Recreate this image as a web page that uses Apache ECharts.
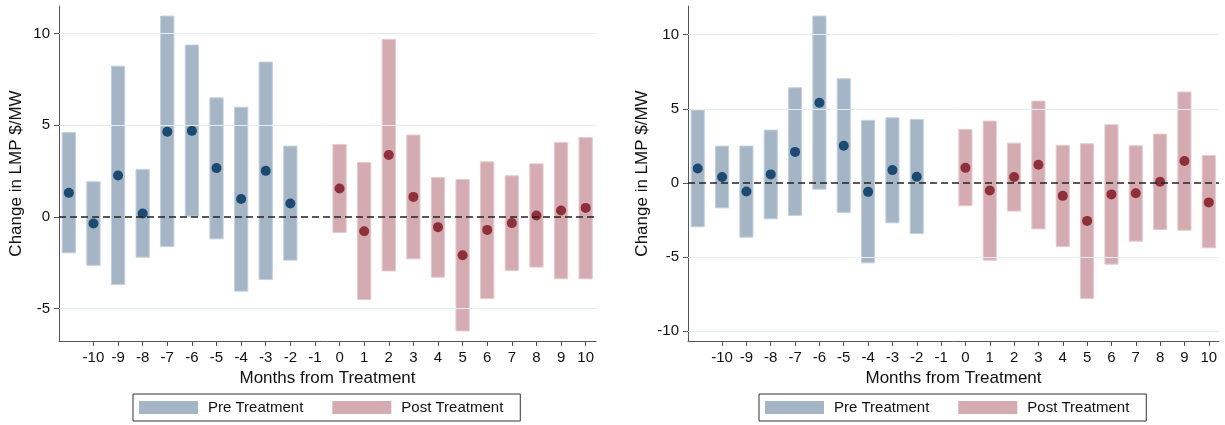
<!DOCTYPE html>
<html lang="en">
<head>
    <meta charset="UTF-8">
    <title>Change in LMP</title>
    <style>
        * {
            margin: 0;
            padding: 0;
        }

        body {
            background-color: #fff;
        }

        #chart {
            width: 1225px;
            height: 425px;
        }
    </style>
</head>
<body>
<div id="chart"></div>
<script src="https://cdn.jsdelivr.net/npm/echarts@6/dist/echarts.min.js"></script>
<script>
    // months from treatment
    var preMonths = [-11, -10, -9, -8, -7, -6, -5, -4, -3, -2];
    var postMonths = [0, 1, 2, 3, 4, 5, 6, 7, 8, 9, 10];
    var xTicks = [-10, -9, -8, -7, -6, -5, -4, -3, -2, -1, 0, 1, 2, 3, 4, 5, 6, 7, 8, 9, 10];

    // left panel
    var leftPreEst = [1.31, -0.36, 2.26, 0.18, 4.64, 4.69, 2.66, 0.97, 2.51, 0.73];
    var leftPreLow = [-1.96, -2.64, -3.69, -2.2, -1.62, 0.04, -1.2, -4.05, -3.42, -2.36];
    var leftPreHigh = [4.6, 1.91, 8.22, 2.59, 10.95, 9.37, 6.49, 5.98, 8.44, 3.86];
    var leftPostEst = [1.55, -0.78, 3.37, 1.09, -0.56, -2.09, -0.71, -0.34, 0.07, 0.35, 0.49];
    var leftPostLow = [-0.85, -4.51, -2.95, -2.29, -3.29, -6.22, -4.45, -2.93, -2.74, -3.38, -3.38];
    var leftPostHigh = [3.95, 2.97, 9.68, 4.46, 2.15, 2.04, 3.0, 2.24, 2.89, 4.06, 4.33];
    var leftYTicks = [-5, 0, 5, 10];

    // right panel
    var rightPreEst = [0.97, 0.39, -0.58, 0.57, 2.09, 5.41, 2.5, -0.61, 0.86, 0.41];
    var rightPreLow = [-2.97, -1.69, -3.67, -2.43, -2.2, -0.43, -2.0, -5.4, -2.7, -3.42];
    var rightPreHigh = [4.91, 2.48, 2.48, 3.56, 6.42, 11.26, 7.03, 4.22, 4.39, 4.28];
    var rightPostEst = [1.01, -0.52, 0.39, 1.22, -0.88, -2.57, -0.78, -0.7, 0.07, 1.47, -1.32];
    var rightPostLow = [-1.55, -5.22, -1.91, -3.11, -4.3, -7.81, -5.49, -3.94, -3.15, -3.2, -4.39];
    var rightPostHigh = [3.6, 4.17, 2.68, 5.52, 2.53, 2.64, 3.92, 2.5, 3.29, 6.13, 1.85];
    var rightYTicks = [-10, -5, 0, 5, 10];

    var preFill = '#a4b5c6', preEdge = '#c4d0db', preDot = '#1b4a72';
    var postFill = '#d4abb1', postEdge = '#e6cacd', postDot = '#8f2f39';
    var font = '"Liberation Sans", Arial, Helvetica, sans-serif';

    function zip3(x, a, b) {
        return x.map(function (v, i) { return [v, a[i], b[i]]; });
    }

    function zip2(x, a) {
        return x.map(function (v, i) { return [v, a[i]]; });
    }

    function rangeBars(fill, edge) {
        return function (params, api) {
            var top = api.coord([api.value(0), api.value(2)]);
            var bot = api.coord([api.value(0), api.value(1)]);
            var w = api.size([1, 0])[0] * 0.54;
            return {
                type: 'rect',
                shape: {x: top[0] - w / 2, y: top[1], width: w, height: bot[1] - top[1]},
                style: {fill: fill, stroke: edge, lineWidth: 1}
            };
        };
    }

    function xAxis(idx) {
        return {
            type: 'value',
            gridIndex: idx,
            min: -11.4,
            max: 10.42,
            name: 'Months from Treatment',
            nameLocation: 'middle',
            nameGap: 27,
            nameTextStyle: {fontSize: 17, color: '#111', fontFamily: font},
            axisLine: {onZero: false, lineStyle: {color: '#555', width: 1}},
            axisTick: {customValues: xTicks, length: 5, lineStyle: {color: '#555'}},
            axisLabel: {customValues: xTicks, fontSize: 15, color: '#111', fontFamily: font, margin: 9},
            splitLine: {show: false}
        };
    }

    function yAxis(idx, min, max, ticks, gap) {
        return {
            type: 'value',
            gridIndex: idx,
            min: min,
            max: max,
            name: 'Change in LMP $/MW',
            nameLocation: 'middle',
            nameGap: gap,
            nameTextStyle: {fontSize: 17, color: '#111', fontFamily: font},
            axisLine: {show: true, onZero: false, lineStyle: {color: '#555', width: 1}},
            axisTick: {show: true, customValues: ticks, length: 5, lineStyle: {color: '#555'}},
            axisLabel: {customValues: ticks, fontSize: 15, color: '#111', fontFamily: font, margin: 9},
            splitLine: {show: false}
        };
    }

    function panelSeries(idx, preEst, preLow, preHigh, postEst, postLow, postHigh, ticks) {
        var grid = ticks.filter(function (t) { return t !== 0; }).map(function (t) { return {yAxis: t}; });
        return [
            {
                type: 'line', xAxisIndex: idx, yAxisIndex: idx, data: [], z: 1, silent: true,
                markLine: {
                    symbol: 'none', silent: true, label: {show: false},
                    lineStyle: {color: '#e4eeef', width: 1, type: 'solid'},
                    data: grid
                }
            },
            {
                name: 'Pre Treatment', type: 'custom', xAxisIndex: idx, yAxisIndex: idx, z: 2,
                itemStyle: {color: preFill},
                renderItem: rangeBars(preFill, preEdge),
                data: zip3(preMonths, preLow, preHigh)
            },
            {
                name: 'Post Treatment', type: 'custom', xAxisIndex: idx, yAxisIndex: idx, z: 2,
                itemStyle: {color: postFill},
                renderItem: rangeBars(postFill, postEdge),
                data: zip3(postMonths, postLow, postHigh)
            },
            {
                type: 'line', xAxisIndex: idx, yAxisIndex: idx, data: [], z: 3, silent: true,
                markLine: {
                    symbol: 'none', silent: true, label: {show: false},
                    lineStyle: {color: '#222', width: 1.5, type: [7, 4]},
                    data: [{yAxis: 0}]
                }
            },
            {
                type: 'scatter', xAxisIndex: idx, yAxisIndex: idx, z: 4,
                symbolSize: 10, itemStyle: {color: preDot, opacity: 1},
                data: zip2(preMonths, preEst)
            },
            {
                type: 'scatter', xAxisIndex: idx, yAxisIndex: idx, z: 4,
                symbolSize: 10, itemStyle: {color: postDot, opacity: 1},
                data: zip2(postMonths, postEst)
            }
        ];
    }

    function legend(left) {
        return {
            left: left,
            top: 394,
            orient: 'horizontal',
            data: ['Pre Treatment', 'Post Treatment'],
            icon: 'rect',
            itemWidth: 59,
            itemHeight: 13,
            itemGap: 29,
            padding: [6, 17, 6, 6],
            borderColor: '#333',
            borderWidth: 1,
            selectedMode: false,
            textStyle: {fontSize: 15, color: '#111', fontFamily: font, padding: [0, 0, 0, 5]}
        };
    }

    var chart = echarts.init(document.getElementById('chart'));
    chart.setOption({
        backgroundColor: '#fff',
        animation: false,
        grid: [
            {left: 59, right: 629, top: 6, bottom: 84},
            {left: 688, right: 6, top: 6, bottom: 84}
        ],
        legend: [legend(133), legend(759)],
        xAxis: [xAxis(0), xAxis(1)],
        yAxis: [
            yAxis(0, -6.77, 11.5, leftYTicks, 34),
            yAxis(1, -10.68, 11.94, rightYTicks, 37)
        ],
        series: panelSeries(0, leftPreEst, leftPreLow, leftPreHigh, leftPostEst, leftPostLow, leftPostHigh, leftYTicks)
            .concat(panelSeries(1, rightPreEst, rightPreLow, rightPreHigh, rightPostEst, rightPostLow, rightPostHigh, rightYTicks))
    });
</script>
</body>
</html>
